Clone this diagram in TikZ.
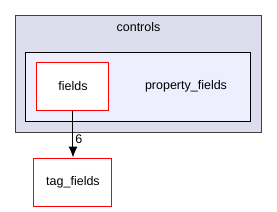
\documentclass[tikz,border=0pt]{standalone}
\usepackage{fontspec}
\setmainfont{Liberation Sans}
\usetikzlibrary{arrows.meta}
\definecolor{outerfill}{HTML}{DDDDEE}
\definecolor{innerfill}{HTML}{EEEEFF}
\definecolor{outerdraw}{HTML}{404040}
\tikzset{
  lbl/.style={font=\fontsize{12.5}{14}\selectfont, inner sep=0pt},
  dirbox/.style={draw=red, fill=white, line width=1pt, minimum width=72pt, minimum height=48pt, inner sep=0pt, font=\fontsize{12.5}{14}\selectfont},
  dep/.style={-{Latex[length=11pt,width=9pt]}, line width=1pt}
}
\begin{document}
\begin{tikzpicture}[x=1pt,y=-1pt]
\useasboundingbox (0,0) rectangle (277,212);
\node[draw=outerdraw, fill=outerfill, line width=1pt, minimum width=246pt, minimum height=117pt, inner sep=0pt] (outer) at (138.5,73.5) {};
\node[lbl] (controls) at (138.5,27) {controls};
\node[draw=black, fill=innerfill, line width=1pt, minimum width=225pt, minimum height=69pt, inner sep=0pt] (inner) at (138.5,86.5) {};
\node[lbl] (pf) at (186,86) {property\_fields};
\node[dirbox] (fields) at (73,86) {fields};
\node[dirbox, minimum width=78pt] (tag) at (73,182) {tag\_fields};
\draw[dep] (fields.south) -- node[lbl, right=2pt, pos=0.6] (six) {6} (tag.north);
\end{tikzpicture}
\end{document}
